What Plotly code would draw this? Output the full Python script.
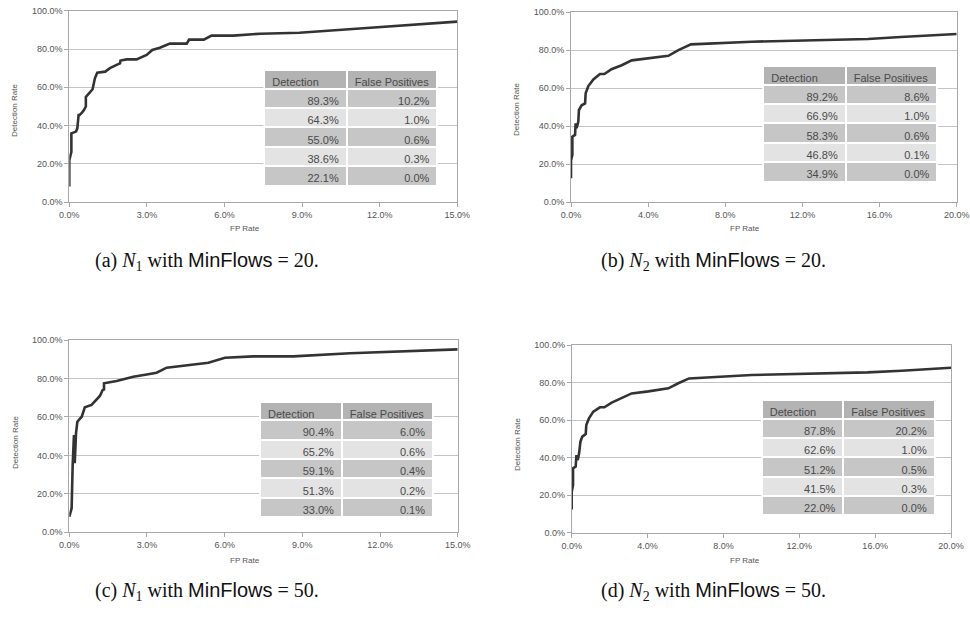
import plotly.graph_objects as go

# ---------------- data ----------------
# (a) N1, MinFlows = 20
a_fp = [0, 0, 0.08, 0.08, 0.26, 0.31, 0.36, 0.40, 0.49, 0.56, 0.64, 0.64, 0.77, 0.90, 0.99, 1.08,
        1.39, 1.57, 1.83, 1.96, 1.98, 2.22, 2.60, 2.99, 3.21, 3.50, 3.89, 4.54, 4.63, 5.20, 5.50,
        6.34, 7.37, 8.90, 11.5, 15.0]
a_det = [8.2, 22.0, 26.4, 36.0, 36.9, 38.6, 45.6, 45.6, 46.8, 48.0, 50.0, 55.0, 57.0, 59.0, 64.7, 67.7,
         68.2, 70.0, 71.7, 72.5, 74.0, 74.6, 74.6, 76.9, 79.5, 80.7, 82.8, 82.8, 84.9, 84.9, 87.0,
         87.0, 88.0, 88.5, 91.0, 94.3]

# (b) N2, MinFlows = 20
b_fp = [0, 0, 0.07, 0.07, 0.21, 0.24, 0.29, 0.38, 0.41, 0.55, 0.73, 0.76, 0.90, 1.16, 1.50, 1.73,
        2.10, 2.63, 3.15, 4.01, 5.05, 5.57, 6.22, 9.37, 12.8, 15.4, 17.1, 20.0]
b_det = [12.6, 22.0, 24.9, 34.5, 35.4, 41.5, 38.9, 42.4, 48.5, 51.0, 52.0, 57.3, 61.1, 64.6, 67.4, 67.4,
         69.9, 72.0, 74.6, 75.7, 77.0, 80.0, 83.0, 84.4, 85.3, 85.8, 86.9, 88.4]

# (c) N1, MinFlows = 50
c_fp = [0, 0.09, 0.13, 0.18, 0.21, 0.26, 0.31, 0.48, 0.60, 0.86, 1.18, 1.29, 1.34, 1.34, 1.83,
        2.47, 2.99, 3.37, 3.76, 4.53, 5.37, 6.01, 7.10, 8.65, 10.84, 15.0]
c_det = [8.1, 12.5, 35.0, 50.6, 35.9, 51.5, 57.5, 60.1, 65.0, 66.2, 70.9, 74.0, 74.3, 77.5, 78.7,
         80.9, 82.1, 83.0, 85.6, 87.0, 88.2, 90.8, 91.5, 91.5, 93.1, 95.1]

# (d) N2, MinFlows = 50
d_fp = [0, 0, 0.07, 0.07, 0.21, 0.25, 0.32, 0.39, 0.46, 0.56, 0.74, 0.77, 0.91, 1.14, 1.49, 1.72,
        2.11, 2.64, 3.16, 4.04, 5.10, 5.62, 6.19, 9.49, 13.0, 15.6, 17.4, 20.0]
d_det = [12.4, 21.8, 25.4, 34.3, 35.2, 41.4, 38.7, 42.3, 48.5, 51.2, 52.6, 57.4, 60.9, 64.5, 66.8, 66.8,
         69.3, 71.6, 74.2, 75.3, 76.9, 79.6, 82.2, 84.0, 84.9, 85.4, 86.3, 87.9]

# tables
table_header = ["Detection", "False\u00a0Positives"]
a_tab_det = ["89.3%", "64.3%", "55.0%", "38.6%", "22.1%"]
a_tab_fp = ["10.2%", "1.0%", "0.6%", "0.3%", "0.0%"]
b_tab_det = ["89.2%", "66.9%", "58.3%", "46.8%", "34.9%"]
b_tab_fp = ["8.6%", "1.0%", "0.6%", "0.1%", "0.0%"]
c_tab_det = ["90.4%", "65.2%", "59.1%", "51.3%", "33.0%"]
c_tab_fp = ["6.0%", "0.6%", "0.4%", "0.2%", "0.1%"]
d_tab_det = ["87.8%", "62.6%", "51.2%", "41.5%", "22.0%"]
d_tab_fp = ["20.2%", "1.0%", "0.5%", "0.3%", "0.0%"]

x_ticks_15 = [0, 3, 6, 9, 12, 15]
x_ticks_20 = [0, 4, 8, 12, 16, 20]
y_ticks = [0, 20, 40, 60, 80, 100]

captions = [
    ("a", "1", "20"),
    ("b", "2", "20"),
    ("c", "1", "50"),
    ("d", "2", "50"),
]

# ---------------- layout helpers ----------------
W, H = 970, 625


def px_x(p):
    return p / W


def px_y(p):
    return 1 - p / H


panels = [
    dict(fp=a_fp, det=a_det, xmax=15, xt=x_ticks_15, box=(69.3, 457.3, 10.7, 202.3),
         tbox=(264.3, 437.3, 70, 188), split=346.7, tdet=a_tab_det, tfp=a_tab_fp,
         xlab=(245, 228), ylab=(15, 111), cap=(207, 261)),
    dict(fp=b_fp, det=b_det, xmax=20, xt=x_ticks_20, box=(571.0, 956.7, 12.0, 202.3),
         tbox=(763.3, 937.3, 66, 185), split=845.7, tdet=b_tab_det, tfp=b_tab_fp,
         xlab=(745, 228), ylab=(517, 110), cap=(713, 261)),
    dict(fp=c_fp, det=c_det, xmax=15, xt=x_ticks_15, box=(69.3, 457.7, 340.0, 532.3),
         tbox=(260.0, 433.3, 401.7, 521.0), split=342.0, tdet=c_tab_det, tfp=c_tab_fp,
         xlab=(245, 560), ylab=(15, 443), cap=(207, 591)),
    dict(fp=d_fp, det=d_det, xmax=20, xt=x_ticks_20, box=(571.7, 951.0, 345.0, 532.7),
         tbox=(761.7, 934.7, 400.0, 519.0), split=843.3, tdet=d_tab_det, tfp=d_tab_fp,
         xlab=(745, 560), ylab=(517, 445), cap=(713, 591)),
]

fig = go.Figure()
layout = dict(
    width=W, height=H,
    margin=dict(l=0, r=0, t=0, b=0, autoexpand=False),
    paper_bgcolor="white", plot_bgcolor="white",
    showlegend=False,
    font=dict(family="Liberation Sans, Arial, sans-serif", color="#555555"),
)
annotations = []

tick_font = dict(family="Liberation Sans, Arial, sans-serif", size=9, color="#555555")
dark = "#c6c6c6"
light = "#e3e3e3"
cell_font = dict(family="Liberation Sans, Arial, sans-serif", size=11, color="#4a4a4a")

for i, p in enumerate(panels):
    n = "" if i == 0 else str(i + 1)
    l, r, t, b = p["box"]
    fig.add_trace(go.Scatter(
        x=p["fp"], y=p["det"], mode="lines",
        line=dict(color="#333333", width=2.6),
        xaxis="x" + n, yaxis="y" + n, hoverinfo="skip",
    ))
    layout["xaxis" + n] = dict(
        domain=[px_x(l), px_x(r)], anchor="y" + n, range=[0, p["xmax"]],
        tickvals=p["xt"], ticktext=[f"{v:.1f}%" for v in p["xt"]],
        showgrid=False, zeroline=False, automargin=False,
        showline=True, linecolor="#a8a8a8", linewidth=1, mirror=True,
        ticks="outside", ticklen=4, tickcolor="#a8a8a8", tickfont=tick_font,
    )
    layout["yaxis" + n] = dict(
        domain=[px_y(b), px_y(t)], anchor="x" + n, range=[0, 100],
        tickvals=y_ticks, ticktext=[f"{v:.1f}%" for v in y_ticks],
        showgrid=True, gridcolor="#c4c4c4", gridwidth=1, zeroline=False, automargin=False,
        showline=True, linecolor="#a8a8a8", linewidth=1, mirror=True,
        ticks="outside", ticklen=4, tickcolor="#a8a8a8", tickfont=tick_font,
    )
    # table
    tl, tr, tt, tb = p["tbox"]
    fills = [dark, light, dark, light, dark]
    fig.add_trace(go.Table(
        domain=dict(x=[px_x(tl), px_x(tr)], y=[px_y(tb), px_y(tt)]),
        columnwidth=[p["split"] - tl, tr - p["split"]],
        header=dict(values=table_header, fill_color="#b3b3b3",
                    line=dict(color="white", width=2), align="left", height=18.5,
                    font=cell_font),
        cells=dict(values=[p["tdet"], p["tfp"]], fill_color=[fills, fills],
                   line=dict(color="white", width=2), align="right", height=19.4,
                   font=cell_font),
    ))
    # axis titles
    annotations.append(dict(x=px_x(p["xlab"][0]), y=px_y(p["xlab"][1]), xref="paper", yref="paper",
                            text="FP Rate", showarrow=False, xanchor="center", yanchor="middle",
                            font=dict(size=8, color="#555555")))
    annotations.append(dict(x=px_x(p["ylab"][0]), y=px_y(p["ylab"][1]), xref="paper", yref="paper",
                            text="Detection Rate", showarrow=False, textangle=-90,
                            xanchor="center", yanchor="middle",
                            font=dict(size=8, color="#555555")))
    letter, sub, mf = captions[i]
    annotations.append(dict(
        x=px_x(p["cap"][0]), y=px_y(p["cap"][1]), xref="paper", yref="paper",
        text=f"({letter}) <i>N</i><sub>{sub}</sub> with <span style='font-family:Liberation Sans'>MinFlows</span> = {mf}.",
        showarrow=False, xanchor="center", yanchor="middle",
        font=dict(family="Liberation Serif, DejaVu Serif, serif", size=20, color="#111111")))

layout["annotations"] = annotations
fig.update_layout(**layout)
fig.write_html("out.html",
               config={"displayModeBar": False, "staticPlot": True},
               post_script="document.body.style.margin='0';document.body.style.overflow='hidden';")
